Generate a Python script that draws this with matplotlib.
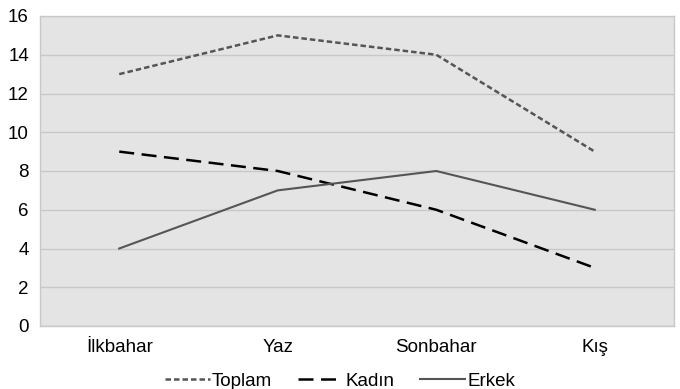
import matplotlib
matplotlib.use("Agg")
import matplotlib.pyplot as plt
import numpy as np

plt.rcParams['font.family'] = ['Liberation Sans', 'DejaVu Sans']

categories = ["İlkbahar", "Yaz", "Sonbahar", "Kış"]
toplam = [13, 15, 14, 9]
kadin = [9, 8, 6, 3]
erkek = [4, 7, 8, 6]
yticks = [0, 2, 4, 6, 8, 10, 12, 14, 16]

fig = plt.figure(figsize=(6.8, 3.89), dpi=100)
ax = fig.add_axes([40/680, 1-326/389, 634/680, 310/389])
ax.set_facecolor('#e4e4e4')
x = np.arange(len(categories))

ax.plot(x, toplam, color='#555555', lw=1.8, dashes=(2.2, 1.2), label='Toplam')
ax.plot(x, kadin, color='#000000', lw=1.8, dashes=(6, 3), label='Kadın')
ax.plot(x, erkek, color='#555555', lw=1.5, label='Erkek')

ax.set_xlim(-0.5, len(categories) - 0.5)
ax.set_ylim(0, 16)
ax.set_yticks(yticks)
ax.set_xticks(x)
ax.set_xticklabels(categories)
ax.yaxis.grid(True, color='#c8c8c8', lw=1)
ax.set_axisbelow(True)
for s in ax.spines.values():
    s.set_color('#c8c8c8')
    s.set_linewidth(1)
ax.tick_params(length=0, labelsize=13.5, colors='black')
ax.tick_params(axis='x', pad=9)
ax.tick_params(axis='y', pad=8)

fig.legend(loc='lower center', bbox_to_anchor=(0.5, -0.045), ncol=3, frameon=False,
           fontsize=13.5, handlelength=2.4, handletextpad=0.1, columnspacing=1.4)

fig.savefig('out.png', dpi=100)
